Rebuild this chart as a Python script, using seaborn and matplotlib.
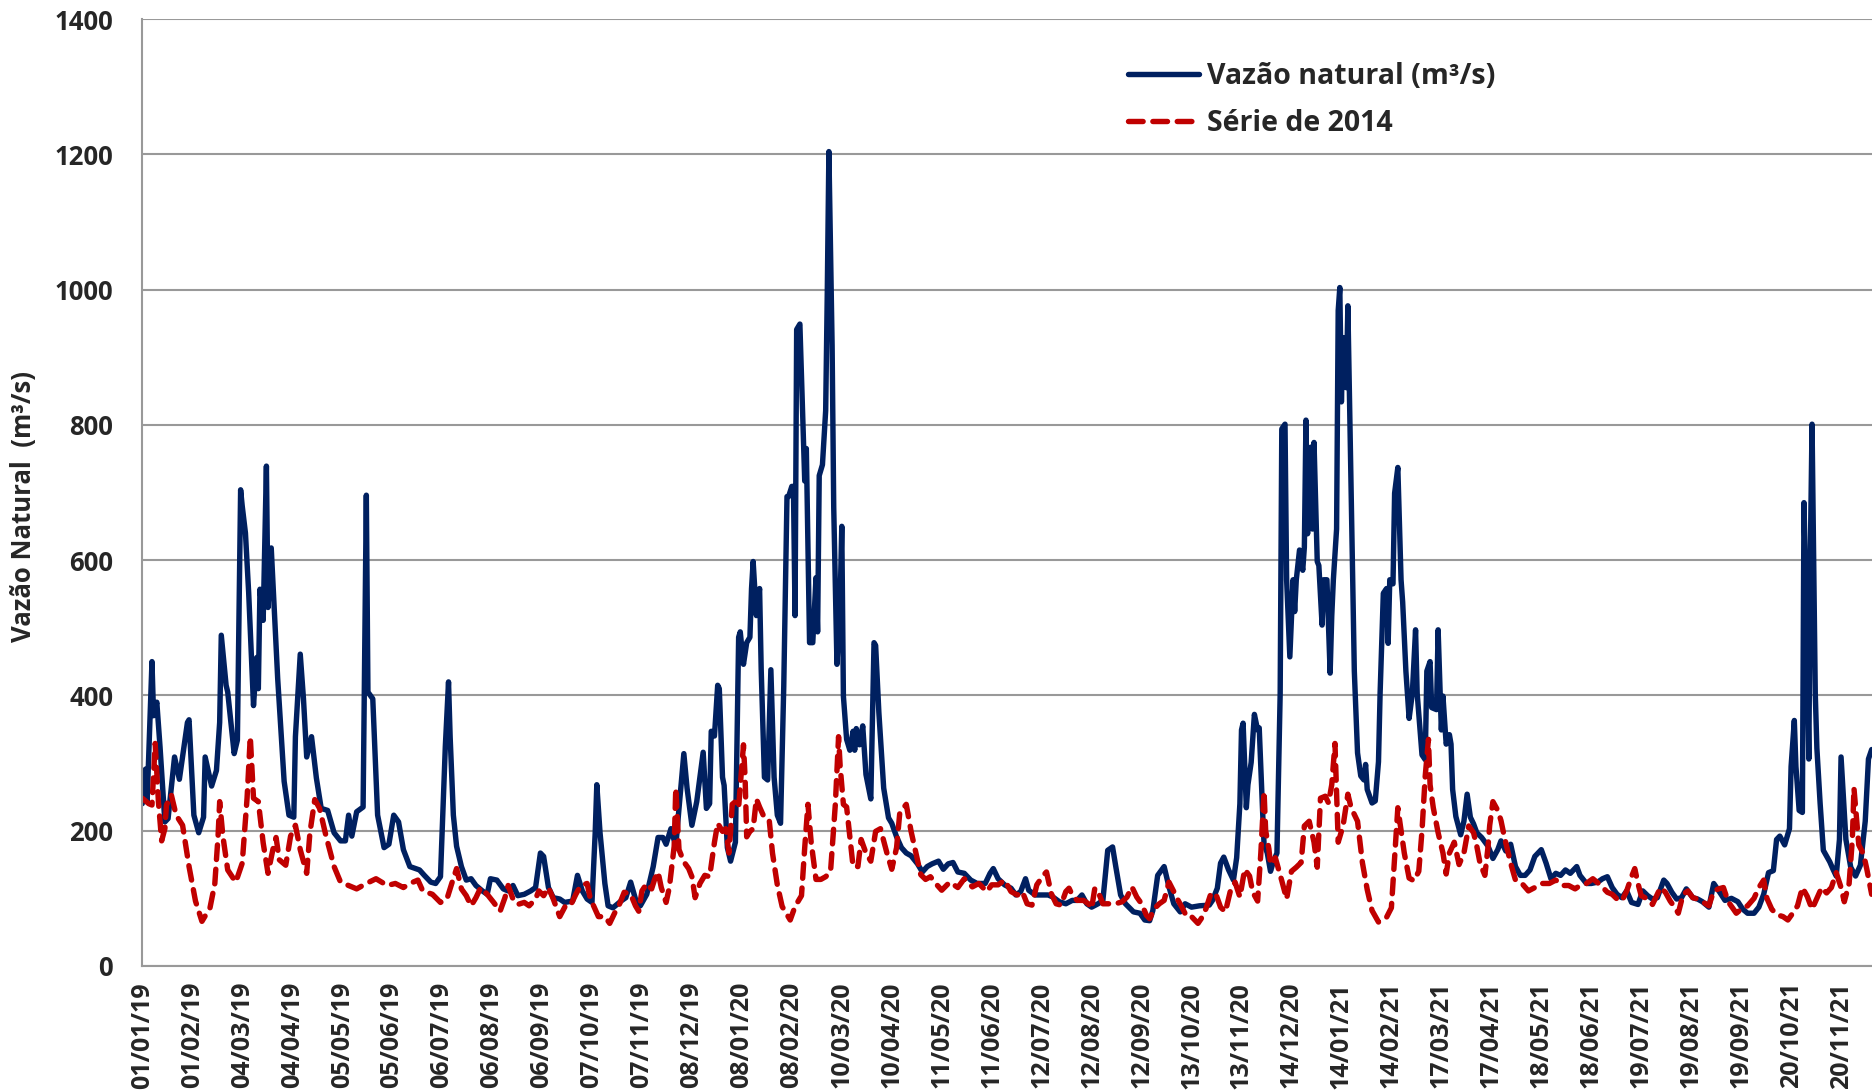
import pandas as pd
import matplotlib
matplotlib.use('Agg')
import matplotlib.pyplot as plt
import seaborn as sns

# Eixo X: rotulos de 31 em 31 dias
tick_labels = ['01/01/19', '01/02/19', '04/03/19', '04/04/19', '05/05/19', '05/06/19',
               '06/07/19', '06/08/19', '06/09/19', '07/10/19', '07/11/19', '08/12/19',
               '08/01/20', '08/02/20', '10/03/20', '10/04/20', '11/05/20', '11/06/20',
               '12/07/20', '12/08/20', '12/09/20', '13/10/20', '13/11/20', '14/12/20',
               '14/01/21', '14/02/21', '17/03/21', '17/04/21', '18/05/21', '18/06/21',
               '19/07/21', '19/08/21', '19/09/21', '20/10/21', '20/11/21']

# (dias desde 01/01/19, vazao m3/s)
vazao_natural = [
    (0, 240), (2, 291), (3, 243), (6, 450), (7, 370), (9, 390), (11, 324), (14, 213), (16, 218),
    (20, 309), (23, 276), (28, 360), (29, 364), (32, 223), (35, 197), (38, 220), (39, 309),
    (43, 266), (46, 289), (48, 360), (49, 489), (52, 415), (53, 405), (57, 314), (59, 334),
    (61, 704), (62, 680), (64, 640), (66, 552), (69, 385), (71, 456), (72, 410), (73, 557),
    (75, 511), (77, 739), (78, 530), (80, 618), (84, 425), (88, 273), (91, 223), (94, 220),
    (95, 339), (98, 461), (100, 395), (102, 309), (105, 339), (108, 278), (111, 233), (115, 230),
    (119, 197), (123, 185), (126, 185), (128, 223), (130, 192), (133, 228), (137, 235), (139, 696),
    (140, 405), (143, 395), (146, 223), (150, 175), (153, 180), (156, 223), (159, 213), (162, 172),
    (166, 147), (172, 142), (175, 134), (179, 124), (182, 122), (185, 132), (187, 258), (188, 324),
    (190, 420), (191, 339), (193, 223), (195, 177), (198, 147), (201, 127), (204, 129), (207, 119),
    (211, 111), (214, 106), (216, 129), (220, 127), (224, 114), (227, 111), (230, 119), (233, 104),
    (237, 106), (241, 111), (244, 116), (247, 167), (249, 162), (252, 116), (255, 101), (259, 99),
    (262, 94), (267, 96), (270, 134), (273, 111), (276, 99), (279, 94), (281, 197), (282, 268),
    (284, 197), (287, 122), (289, 89), (292, 86), (297, 96), (300, 101), (303, 124), (306, 99),
    (309, 89), (313, 106), (317, 147), (320, 190), (323, 190), (325, 180), (328, 203), (331, 177),
    (333, 233), (336, 314), (338, 263), (341, 208), (344, 243), (348, 316), (350, 233), (352, 240),
    (353, 347), (355, 340), (357, 415), (358, 410), (360, 279), (361, 267), (363, 175), (365, 155),
    (368, 183), (370, 486), (371, 494), (373, 446), (375, 478), (377, 486), (378, 558), (379, 598),
    (381, 518), (383, 558), (384, 438), (386, 279), (388, 275), (390, 438), (392, 279), (394, 223),
    (396, 211), (398, 414), (400, 694), (401, 694), (403, 709), (404, 709), (405, 518), (406, 941),
    (408, 949), (410, 797), (411, 717), (412, 765), (414, 478), (416, 478), (418, 574), (419, 494),
    (420, 725), (422, 741), (424, 821), (425, 996), (426, 1204), (428, 917), (429, 678), (431, 446),
    (433, 542), (434, 650), (435, 399), (437, 335), (439, 319), (441, 347), (442, 319), (443, 351),
    (445, 327), (447, 355), (449, 283), (452, 247), (454, 478), (455, 474), (457, 375), (460, 263),
    (463, 219), (465, 211), (468, 191), (471, 175), (474, 167), (477, 163), (481, 151), (484, 139),
    (487, 147), (490, 151), (494, 155), (497, 143), (500, 151), (503, 153), (506, 139), (510, 137),
    (514, 127), (518, 122), (523, 122), (526, 137), (528, 144), (531, 129), (535, 120), (539, 115),
    (542, 105), (545, 110), (548, 129), (550, 112), (554, 105), (558, 105), (562, 105), (565, 102),
    (569, 95), (573, 92), (577, 97), (580, 97), (583, 105), (586, 92), (589, 87), (593, 92),
    (596, 97), (599, 171), (602, 176), (604, 147), (607, 105), (610, 92), (615, 80), (619, 78),
    (622, 68), (625, 67), (627, 82), (630, 134), (634, 147), (637, 117), (640, 92), (644, 80),
    (647, 92), (651, 87), (656, 89), (662, 90), (664, 97), (667, 115), (669, 152), (671, 161),
    (674, 142), (677, 127), (679, 160), (681, 240), (682, 349), (683, 359), (685, 234), (686, 268),
    (688, 301), (690, 372), (692, 349), (693, 352), (695, 234), (696, 180), (698, 167), (700, 140),
    (702, 156), (704, 167), (706, 403), (707, 794), (709, 801), (710, 571), (712, 457), (714, 571),
    (715, 524), (716, 571), (718, 615), (720, 585), (721, 619), (722, 807), (723, 639), (725, 767),
    (726, 646), (727, 774), (729, 598), (730, 592), (732, 504), (733, 571), (735, 571), (737, 433),
    (738, 517), (739, 571), (741, 646), (742, 969), (743, 1003), (744, 834), (745, 929), (747, 855),
    (748, 976), (750, 706), (752, 436), (754, 315), (756, 281), (758, 275), (759, 298), (760, 261),
    (763, 241), (765, 244), (767, 302), (768, 403), (770, 551), (772, 558), (773, 477), (774, 571),
    (776, 565), (777, 699), (779, 737), (781, 571), (782, 538), (784, 436), (786, 366), (788, 403),
    (790, 497), (791, 403), (794, 312), (796, 305), (797, 436), (799, 450), (800, 382), (803, 379),
    (804, 497), (806, 349), (807, 399), (809, 328), (811, 342), (812, 328), (813, 261), (815, 221),
    (818, 194), (820, 214), (822, 254), (824, 220), (826, 210), (828, 197), (831, 190), (835, 177),
    (838, 159), (841, 172), (843, 185), (846, 170), (849, 180), (852, 147), (855, 134), (858, 134),
    (861, 142), (864, 162), (868, 172), (871, 152), (874, 129), (877, 137), (880, 134), (883, 142),
    (886, 137), (890, 147), (892, 134), (896, 122), (899, 122), (903, 124), (906, 129), (909, 132),
    (912, 116), (915, 106), (918, 101), (921, 111), (924, 94), (928, 91), (931, 111), (934, 104),
    (937, 99), (940, 101), (944, 127), (946, 122), (949, 109), (952, 99), (955, 101), (958, 114),
    (962, 101), (965, 99), (968, 95), (972, 87), (975, 122), (979, 108), (982, 97), (986, 100),
    (990, 95), (993, 84), (996, 78), (1000, 78), (1003, 87), (1006, 106), (1009, 138), (1012, 141),
    (1014, 187), (1016, 192), (1019, 179), (1022, 203), (1023, 295), (1025, 363), (1026, 295),
    (1028, 230), (1030, 227), (1031, 685), (1033, 457), (1034, 306), (1035, 620), (1036, 801),
    (1038, 403), (1039, 322), (1041, 241), (1043, 171), (1047, 154), (1049, 143), (1051, 133),
    (1053, 187), (1054, 309), (1057, 187), (1060, 146), (1063, 133), (1066, 149), (1069, 214),
    (1071, 306), (1073, 320),
]

serie_2014 = [
    (0, 248), (4, 240), (6, 238), (8, 329), (10, 243), (12, 185), (14, 203), (15, 238), (18, 253),
    (21, 223), (25, 208), (29, 147), (33, 96), (37, 66), (42, 86), (45, 122), (47, 192), (48, 243),
    (50, 192), (53, 142), (58, 124), (62, 152), (65, 248), (67, 339), (69, 248), (72, 243),
    (75, 182), (78, 137), (81, 172), (83, 190), (85, 157), (89, 149), (92, 192), (95, 208),
    (98, 172), (102, 137), (104, 197), (107, 246), (110, 233), (114, 192), (119, 147), (123, 124),
    (128, 119), (133, 114), (139, 122), (145, 129), (152, 119), (157, 122), (162, 116), (166, 122),
    (171, 127), (174, 111), (180, 106), (185, 94), (189, 99), (192, 122), (195, 144), (198, 114),
    (201, 104), (204, 89), (207, 101), (210, 116), (214, 106), (218, 94), (222, 81), (225, 101),
    (227, 119), (230, 99), (233, 91), (237, 94), (240, 89), (244, 99), (246, 111), (249, 104),
    (252, 116), (255, 99), (259, 73), (263, 91), (266, 91), (269, 106), (272, 119), (276, 122),
    (278, 99), (280, 89), (283, 73), (287, 73), (290, 63), (293, 78), (296, 91), (299, 109),
    (303, 106), (306, 89), (308, 81), (310, 111), (313, 122), (316, 114), (318, 129), (320, 139),
    (322, 116), (325, 94), (327, 116), (330, 177), (331, 263), (333, 172), (336, 154), (339, 144),
    (341, 132), (343, 101), (346, 122), (349, 134), (352, 132), (355, 183), (357, 211), (360, 199),
    (362, 203), (364, 167), (365, 199), (366, 239), (368, 243), (370, 235), (373, 327), (374, 279),
    (375, 191), (377, 199), (379, 203), (381, 247), (383, 235), (386, 219), (389, 215), (391, 167),
    (394, 120), (397, 88), (402, 68), (405, 88), (409, 104), (411, 175), (413, 239), (415, 183),
    (418, 128), (421, 128), (424, 132), (427, 139), (430, 239), (432, 339), (433, 295), (435, 239),
    (437, 235), (439, 191), (441, 147), (444, 147), (446, 187), (449, 167), (452, 155), (455, 199),
    (458, 203), (462, 167), (465, 143), (468, 175), (470, 227), (474, 239), (477, 199), (480, 167),
    (483, 135), (486, 128), (489, 132), (493, 120), (496, 112), (501, 124), (506, 116), (510, 129),
    (515, 117), (519, 122), (524, 110), (527, 120), (531, 120), (535, 127), (539, 110), (543, 105),
    (546, 110), (549, 92), (552, 90), (555, 120), (559, 134), (561, 139), (564, 107), (567, 92),
    (570, 90), (573, 110), (575, 115), (577, 105), (580, 97), (584, 97), (587, 92), (589, 85),
    (591, 115), (593, 110), (596, 92), (600, 92), (604, 92), (608, 95), (611, 102), (614, 117),
    (617, 102), (620, 92), (623, 75), (625, 70), (628, 85), (631, 92), (634, 97), (637, 124),
    (640, 110), (642, 100), (645, 87), (648, 73), (651, 73), (655, 63), (657, 70), (660, 85),
    (663, 107), (666, 107), (669, 87), (672, 80), (675, 110), (678, 124), (681, 102), (684, 143),
    (687, 133), (689, 109), (692, 96), (694, 167), (696, 258), (697, 200), (699, 173), (700, 150),
    (703, 160), (707, 126), (710, 99), (713, 140), (716, 146), (719, 153), (721, 207), (724, 214),
    (727, 183), (729, 146), (731, 248), (734, 251), (736, 241), (738, 268), (740, 329), (741, 254),
    (742, 183), (745, 207), (748, 254), (750, 234), (754, 214), (757, 153), (760, 113), (763, 82),
    (767, 65), (772, 72), (775, 86), (777, 160), (779, 234), (781, 200), (783, 167), (786, 130),
    (789, 126), (792, 140), (794, 200), (796, 281), (798, 335), (799, 268), (801, 234), (804, 197),
    (807, 167), (809, 136), (811, 167), (814, 183), (817, 150), (820, 167), (823, 207), (826, 197),
    (828, 177), (830, 152), (833, 134), (835, 177), (836, 208), (838, 243), (841, 230), (843, 215),
    (845, 192), (847, 172), (849, 152), (852, 127), (856, 122), (860, 111), (864, 116), (868, 122),
    (873, 122), (877, 127), (881, 119), (885, 119), (889, 114), (892, 119), (896, 122), (900, 129),
    (905, 119), (909, 109), (912, 106), (915, 99), (918, 96), (921, 111), (924, 132), (926, 144),
    (928, 122), (930, 104), (934, 99), (937, 91), (940, 106), (942, 116), (945, 109), (948, 96),
    (951, 86), (953, 78), (956, 106), (959, 111), (962, 101), (965, 99), (968, 95), (972, 89),
    (975, 111), (978, 114), (981, 116), (984, 95), (989, 78), (992, 84), (996, 89), (1000, 100),
    (1003, 116), (1006, 127), (1008, 100), (1011, 84), (1014, 76), (1018, 73), (1021, 68),
    (1024, 78), (1027, 89), (1030, 116), (1033, 103), (1036, 84), (1039, 100), (1042, 116),
    (1045, 108), (1048, 116), (1051, 138), (1054, 116), (1056, 95), (1059, 122), (1061, 187),
    (1062, 263), (1064, 208), (1065, 179), (1068, 165), (1070, 143), (1073, 106),
]

start = pd.Timestamp('2019-01-01')


def to_frame(points):
    df = pd.DataFrame(points, columns=['dia', 'vazao'])
    df['data'] = start + pd.to_timedelta(df['dia'], unit='D')
    return df


df_vazao = to_frame(vazao_natural)
df_2014 = to_frame(serie_2014)

sns.set_style('white')
plt.rcParams['font.family'] = ['Open Sans', 'DejaVu Sans']
plt.rcParams['font.weight'] = 'bold'

grid_color = '#999999'

fig = plt.figure(figsize=(18.72, 10.90), dpi=100)
ax = fig.add_axes([142.3 / 1872, 1 - 966 / 1090, (1872 - 142.3) / 1872, (966 - 19) / 1090])

sns.lineplot(data=df_vazao, x='data', y='vazao', ax=ax, color='#002060', linewidth=3.9,
             label='Vazão natural (m³/s)')
sns.lineplot(data=df_2014, x='data', y='vazao', ax=ax, color='#C00000', linewidth=3.9,
             label='Série de 2014')
red_line = ax.lines[-1]
red_line.set_dashes([2.7, 1.8])
red_line.set_dash_capstyle('round')

# eixos
ax.set_ylim(0, 1400)
ax.set_yticks(range(0, 1401, 200))
ax.set_xlim(start, start + pd.Timedelta(days=1073.2))
ax.set_xticks(pd.to_datetime(tick_labels, format='%d/%m/%y'))
ax.set_xticklabels(tick_labels, rotation=90)
ax.set_xlabel('')
ax.set_ylabel('')

ax.yaxis.grid(True, color=grid_color, linewidth=1.5)
ax.xaxis.grid(False)
ax.set_axisbelow(True)
for side in ['top', 'right']:
    ax.spines[side].set_visible(False)
for side in ['left', 'bottom']:
    ax.spines[side].set_color(grid_color)
    ax.spines[side].set_linewidth(1.5)

ax.tick_params(axis='y', length=7, width=1.5, color=grid_color, pad=14, labelsize=18.5)
ax.tick_params(axis='x', length=5.5, width=1.5, color=grid_color, pad=6, labelsize=18)
for lab in ax.get_xticklabels() + ax.get_yticklabels():
    lab.set_fontweight('bold')

fig.text(24 / 1872, 1 - 507 / 1090, 'Vazão Natural  (m³/s)', rotation=90, ha='center',
         va='center', fontsize=18.5, fontweight='bold')

ax.legend(loc='upper left', bbox_to_anchor=(0.570, 0.955), frameon=False,
          handlelength=2.5, handletextpad=0.25, labelspacing=0.65, borderpad=0,
          borderaxespad=0, prop={'weight': 'bold', 'size': 20.5})

fig.savefig('out.png', dpi=100)
